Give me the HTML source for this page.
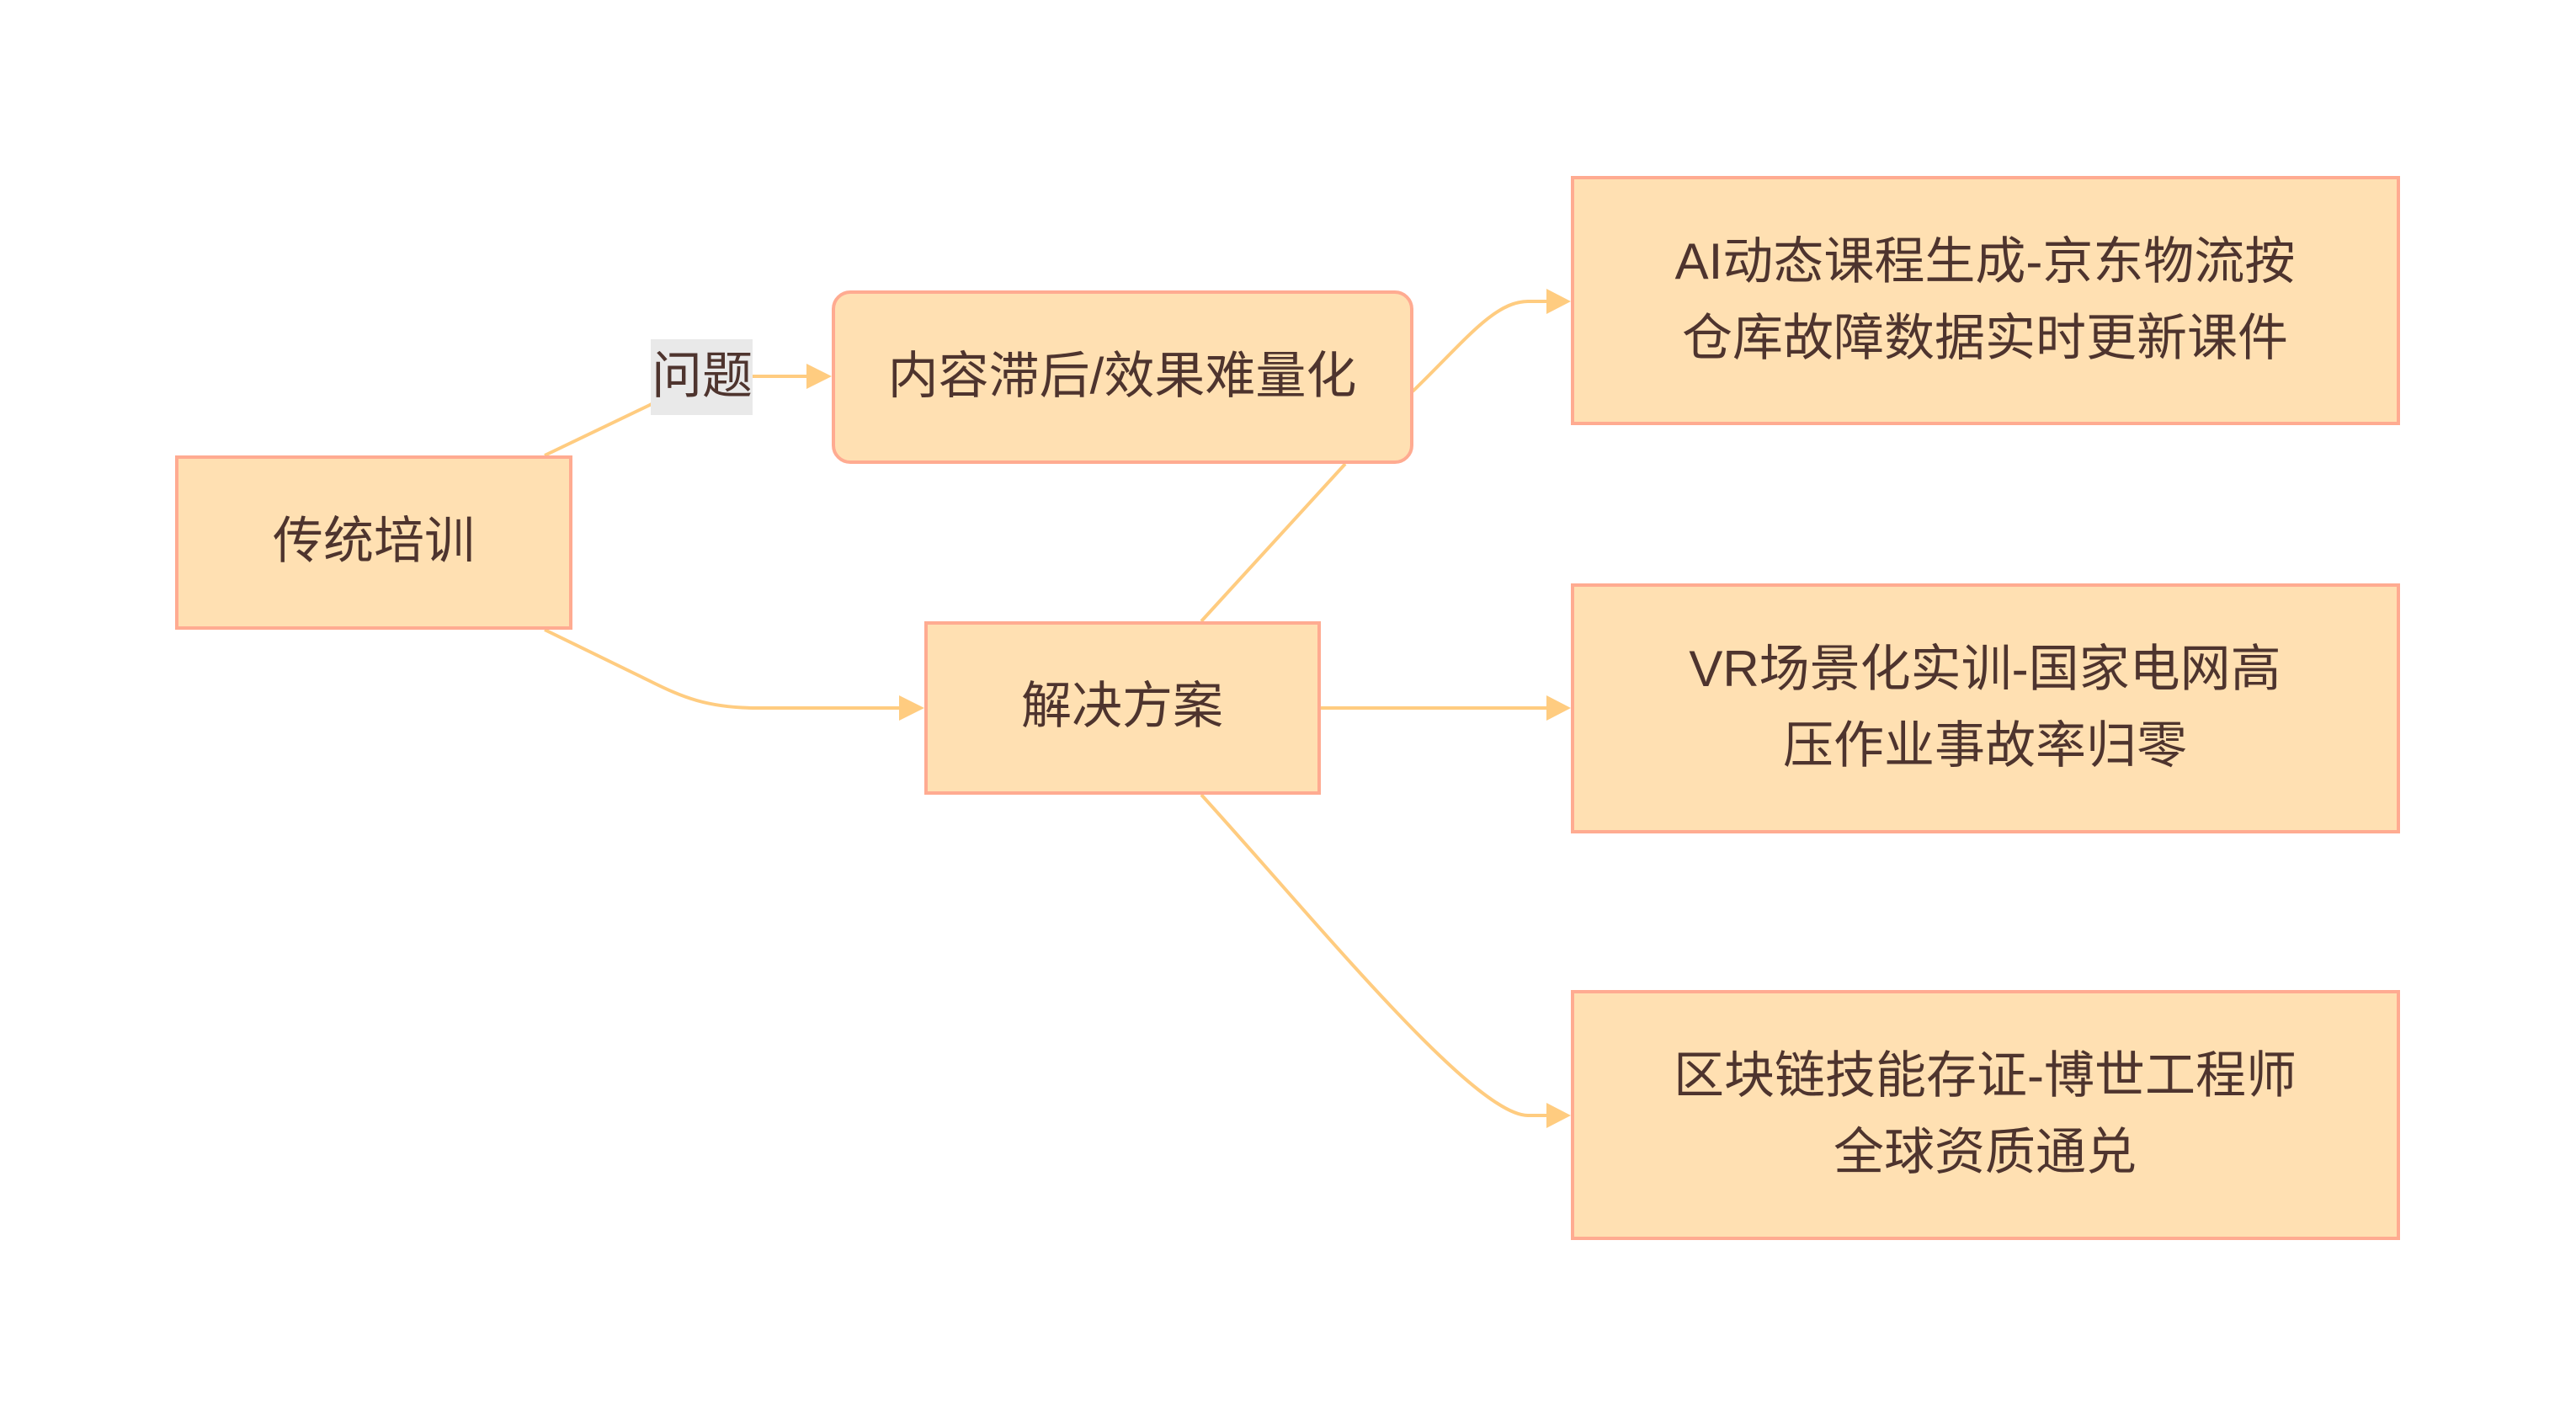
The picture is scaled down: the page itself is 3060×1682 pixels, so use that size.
<!DOCTYPE html>
<html>
<head>
<meta charset="utf-8">
<style>
  html, body { margin: 0; padding: 0; background: #ffffff; }
  svg { display: block; }
  text {
    font-family: "Liberation Sans", "Noto Sans CJK SC", sans-serif;
    font-size: 60px;
    fill: #4E342E;
  }
</style>
</head>
<body>
<svg width="3060" height="1682" viewBox="0 0 3060 1682" xmlns="http://www.w3.org/2000/svg">
  <rect x="0" y="0" width="3060" height="1682" fill="#ffffff"/>

  <!-- edges -->
  <g fill="none" stroke="#FFCC80" stroke-width="4">
    <!-- 传统培训 -> 内容滞后 (label 问题) -->
    <path d="M647,541 L772,481 C800,466 815,447 850,447 L960,447"/>
    <!-- 传统培训 -> 解决方案 -->
    <path d="M647,748 L770,808 C810,828 840,841 900,841 L1070,841"/>
    <!-- 内容滞后 - 解决方案 -->
    <path d="M1598,551 L1427,738"/>
    <!-- 内容滞后 -> AI -->
    <path d="M1678,465 C1740,405 1775,358 1815,358 L1840,358"/>
    <!-- 解决方案 -> VR -->
    <path d="M1569,841 L1840,841"/>
    <!-- 解决方案 -> 区块链 -->
    <path d="M1427,944 C1560,1090 1750,1325 1815,1325 L1840,1325"/>
  </g>

  <!-- arrowheads -->
  <g fill="#FFCC80">
    <polygon points="988,447 958,432 958,462"/>
    <polygon points="1098,841 1068,826 1068,856"/>
    <polygon points="1866,358 1837,343 1837,373"/>
    <polygon points="1866,841 1837,826 1837,856"/>
    <polygon points="1866,1325 1837,1310 1837,1340"/>
  </g>

  <!-- nodes -->
  <g fill="#FFE0B2" stroke="#FFAB91" stroke-width="4">
    <rect x="210" y="543" width="468" height="203"/>
    <rect x="990" y="347" width="687" height="202" rx="20" ry="20"/>
    <rect x="1100" y="740" width="467" height="202"/>
    <rect x="1868" y="211" width="981" height="292"/>
    <rect x="1868" y="695" width="981" height="293"/>
    <rect x="1868" y="1178" width="981" height="293"/>
  </g>

  <!-- edge label background -->
  <rect x="773" y="403" width="121" height="90" fill="#E9E9E9"/>

  <!-- texts -->
  <g text-anchor="middle">
    <text x="834" y="467">问题</text>
    <text x="444" y="663">传统培训</text>
    <text x="1333" y="467">内容滞后/效果难量化</text>
    <text x="1333" y="859">解决方案</text>

    <text x="2358" y="331">AI动态课程生成-京东物流按</text>
    <text x="2358" y="422">仓库故障数据实时更新课件</text>

    <text x="2358" y="815">VR场景化实训-国家电网高</text>
    <text x="2358" y="906">压作业事故率归零</text>

    <text x="2358" y="1298">区块链技能存证-博世工程师</text>
    <text x="2358" y="1389">全球资质通兑</text>
  </g>
</svg>
</body>
</html>
